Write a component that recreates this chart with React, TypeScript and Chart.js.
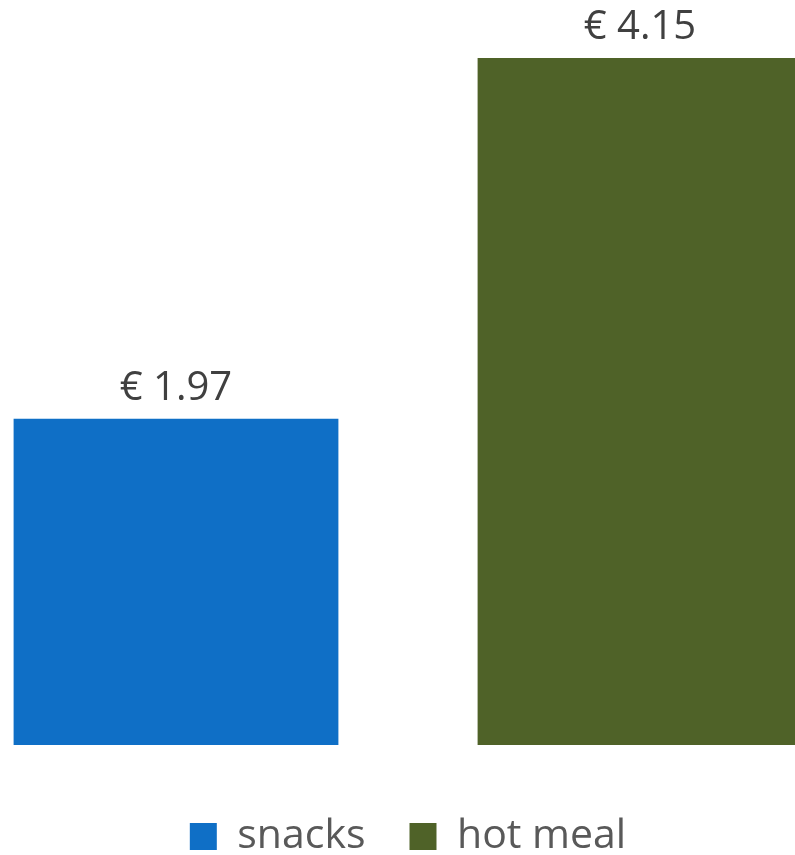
import React, { useEffect, useRef } from "react";
import { Chart, registerables } from "chart.js";

Chart.register(...registerables);

const categories = [""];
const seriesNames = ["snacks", "hot meal"];
const seriesValues = [[1.97], [4.15]];
const seriesColors = ["#0F6FC6", "#4F6228"];
const currency = "€";

const labelPlugin = {
  id: "valueLabels",
  afterDatasetsDraw(chart: any) {
    const ctx = chart.ctx;
    ctx.save();
    ctx.font = "40px 'Open Sans'";
    ctx.fillStyle = "#404040";
    ctx.textAlign = "center";
    ctx.textBaseline = "alphabetic";
    chart.data.datasets.forEach((ds: any, i: number) => {
      const meta = chart.getDatasetMeta(i);
      meta.data.forEach((bar: any, j: number) => {
        const v = ds.data[j];
        ctx.fillText(`${currency} ${v.toFixed(2)}`, bar.x, bar.y - 19);
      });
    });
    ctx.restore();
  },
};

export default function App() {
  const ref = useRef<HTMLCanvasElement>(null);
  useEffect(() => {
    const chart = new Chart(ref.current!, {
      type: "bar",
      data: {
        labels: categories,
        datasets: seriesNames.map((n, i) => ({
          label: n,
          data: seriesValues[i],
          backgroundColor: seriesColors[i],
          barPercentage: 0.7,
          categoryPercentage: 1,
        })),
      },
      options: {
        animation: false,
        responsive: false,
        maintainAspectRatio: false,
        layout: { padding: { top: 0, bottom: 0, left: 0, right: 0 } },
        scales: {
          x: { display: false },
          y: { display: false, min: 0, max: 4.5 },
        },
        plugins: {
          tooltip: { enabled: false },
          legend: {
            position: "bottom",
            title: { display: true, text: "", padding: 7.5, font: { size: 10 } },
            labels: {
              boxWidth: 27,
              boxHeight: 27,
              padding: 44,
              color: "#595959",
              font: { family: "'Open Sans'", size: 41 },
            },
          },
        },
      },
      plugins: [labelPlugin],
    });
    return () => chart.destroy();
  }, []);
  return (
    <div style={{ position: "fixed", left: 0, top: 0, width: 795, height: 855, overflow: "hidden", background: "#fff" }}>
      <canvas ref={ref} width={928} height={867} style={{ position: "absolute", left: -56, top: 0, width: 928, height: 867 }} />
    </div>
  );
}
